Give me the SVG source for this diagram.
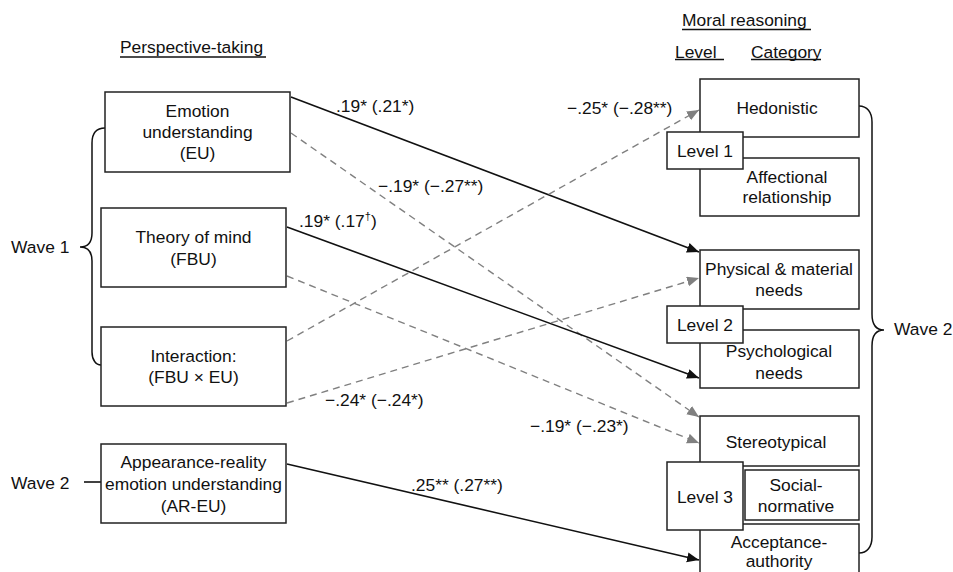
<svg xmlns="http://www.w3.org/2000/svg" width="953" height="572" viewBox="0 0 953 572">
<style>
text{font-family:"Liberation Sans",Arial,sans-serif;font-size:17.4px;fill:#111}
.c{text-anchor:middle}
.box{fill:#fff;stroke:#222;stroke-width:1.5}
.solid{stroke:#111;stroke-width:1.6;fill:none}
.dash{stroke:#808080;stroke-width:1.4;stroke-dasharray:7 5;fill:none}
.ul{stroke:#111;stroke-width:1.3}
.brace{fill:none;stroke:#111;stroke-width:1.5}
</style>
<defs>
<marker id="ab" markerUnits="userSpaceOnUse" markerWidth="14" markerHeight="12" refX="12" refY="5" orient="auto"><path d="M0,0 L12,5 L0,10 Z" fill="#111"/></marker>
<marker id="ag" markerUnits="userSpaceOnUse" markerWidth="14" markerHeight="12" refX="12" refY="5" orient="auto"><path d="M0,0 L12,5 L0,10 Z" fill="#808080"/></marker>
</defs>
<rect width="953" height="572" fill="#fff"/>

<g id="headers">
<text x="120" y="53">Perspective-taking</text><line class="ul" x1="120" y1="57" x2="266" y2="57"/>
<text x="682" y="26">Moral reasoning</text><line class="ul" x1="682" y1="29.5" x2="811" y2="29.5"/>
<text x="675" y="58">Level</text><line class="ul" x1="675" y1="59.5" x2="724" y2="59.5"/>
<text x="751" y="58">Category</text><line class="ul" x1="751" y1="59.5" x2="821" y2="59.5"/>
</g>

<g id="connectors">
<line class="solid" x1="291" y1="97" x2="699" y2="252" marker-end="url(#ab)"/>
<line class="dash" x1="291" y1="133" x2="699" y2="417" marker-end="url(#ag)"/>
<line class="solid" x1="287" y1="227" x2="699" y2="378" marker-end="url(#ab)"/>
<line class="dash" x1="287" y1="276" x2="699" y2="443" marker-end="url(#ag)"/>
<line class="dash" x1="287" y1="341" x2="699" y2="110" marker-end="url(#ag)"/>
<line class="dash" x1="287" y1="403" x2="699" y2="278" marker-end="url(#ag)"/>
<line class="solid" x1="287" y1="464" x2="699" y2="560" marker-end="url(#ab)"/>
<line class="solid" x1="84" y1="482" x2="101" y2="482"/>
</g>

<g id="labels">
<text x="336" y="112">.19* (.21*)</text>
<text x="378" y="192">−.19* (−.27**)</text>
<text x="299" y="227">.19* (.17<tspan font-size="11" dy="-7">†</tspan><tspan dy="7">)</tspan></text>
<text x="567" y="114">−.25* (−.28**)</text>
<text x="325" y="406">−.24* (−.24*)</text>
<text x="530" y="432">−.19* (−.23*)</text>
<text x="411" y="491">.25** (.27**)</text>
</g>

<g id="wave1">
<path class="brace" d="M105,128 C97,128 92,133 92,143 L92,233 C92,242 88,247 80,247 C88,247 92,252 92,261 L92,352 C92,360 96,365 101,365"/>
<text x="11" y="253">Wave 1</text>
</g>
<g id="wave2left"><text x="11" y="489">Wave 2</text></g>
<g id="wave2right">
<path class="brace" d="M859,106 C867,106 872,112 872,122 L872,314 C872,324 876,330 884,330 C876,330 872,336 872,346 L872,537 C872,547 867,553 859,553"/>
<text x="894" y="335">Wave 2</text>
</g>

<g id="eu"><rect class="box" x="105" y="92" width="185" height="80"/>
<text class="c" x="197.5" y="117">Emotion</text><text class="c" x="197.5" y="138">understanding</text><text class="c" x="197.5" y="159">(EU)</text></g>
<g id="tom"><rect class="box" x="101" y="208" width="185" height="79"/>
<text class="c" x="193.5" y="243">Theory of mind</text><text class="c" x="193.5" y="265">(FBU)</text></g>
<g id="interaction"><rect class="box" x="101" y="327" width="185" height="79"/>
<text class="c" x="193.5" y="362">Interaction:</text><text class="c" x="193.5" y="383">(FBU × EU)</text></g>
<g id="areu"><rect class="box" x="101" y="444" width="185" height="79"/>
<text class="c" x="193.5" y="468">Appearance-reality</text><text class="c" x="193.5" y="490">emotion understanding</text><text class="c" x="193.5" y="512">(AR-EU)</text></g>

<g id="hedonistic"><rect class="box" x="700" y="79" width="159" height="58"/>
<text class="c" x="777" y="114">Hedonistic</text></g>
<g id="affectional"><rect class="box" x="700" y="158" width="159" height="58"/>
<text class="c" x="787" y="183">Affectional</text><text class="c" x="787" y="203">relationship</text></g>
<g id="level1"><rect class="box" x="667" y="132" width="76" height="37"/>
<text class="c" x="705" y="157">Level 1</text></g>

<g id="physical"><rect class="box" x="700" y="250" width="159" height="59"/>
<text class="c" x="779" y="275">Physical &amp; material</text><text class="c" x="779" y="296">needs</text></g>
<g id="psychological"><rect class="box" x="700" y="330" width="159" height="58"/>
<text class="c" x="779" y="357">Psychological</text><text class="c" x="779" y="379">needs</text></g>
<g id="level2"><rect class="box" x="667" y="306" width="76" height="37"/>
<text class="c" x="705" y="331">Level 2</text></g>

<g id="stereotypical"><rect class="box" x="700" y="416" width="159" height="50"/>
<text class="c" x="776" y="448">Stereotypical</text></g>
<g id="socialnormative"><rect class="box" x="745" y="470" width="114" height="50"/>
<text class="c" x="796" y="491">Social-</text><text class="c" x="796" y="512">normative</text></g>
<g id="acceptance"><rect class="box" x="700" y="524" width="159" height="52"/>
<text class="c" x="779" y="548">Acceptance-</text><text class="c" x="779" y="567">authority</text></g>
<g id="level3"><rect class="box" x="667" y="462" width="76" height="68"/>
<text class="c" x="705" y="503">Level 3</text></g>
</svg>
